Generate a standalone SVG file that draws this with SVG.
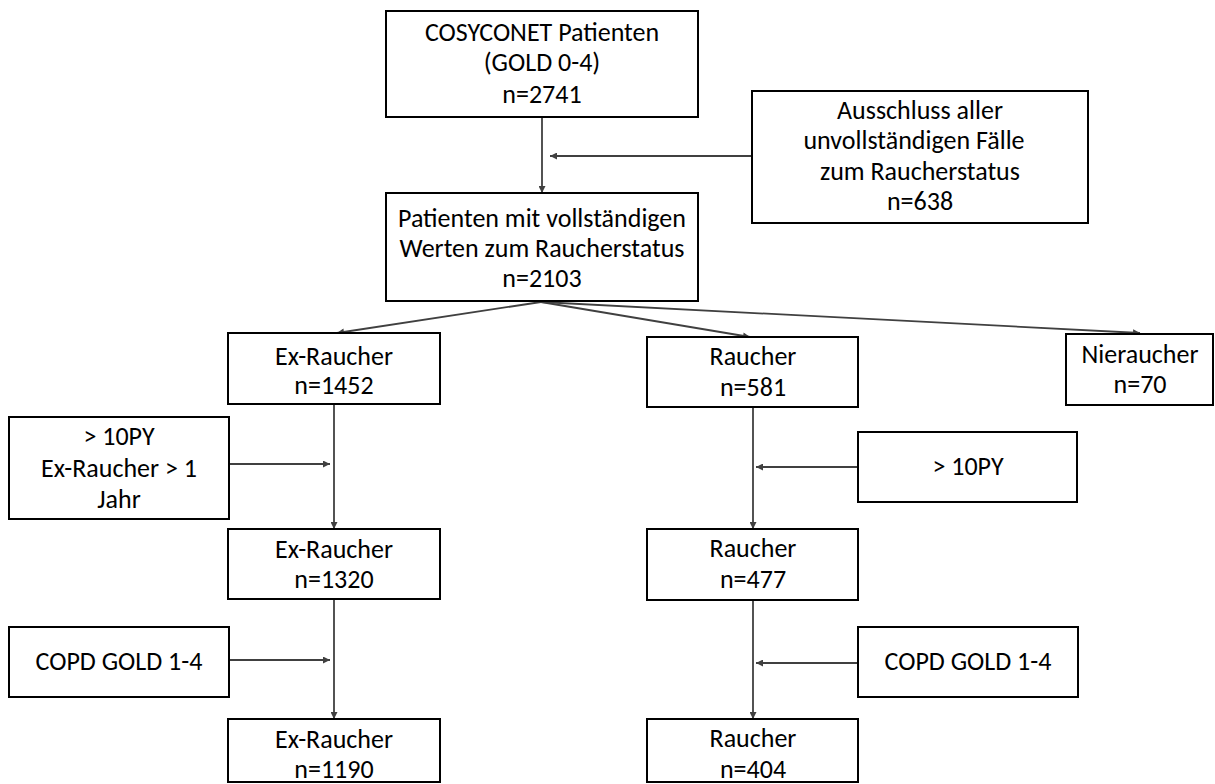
<svg xmlns="http://www.w3.org/2000/svg" width="1215" height="784" viewBox="0 0 1215 784">
<style>
.box{fill:#fff;stroke:#000;stroke-width:2}
.t{font-family:Carlito,"Open Sans",Lato,"Liberation Sans",sans-serif;font-size:26px;fill:#000;text-anchor:middle}
.c{stroke:#404040;stroke-width:1.8;fill:none;marker-end:url(#ah)}
</style>
<defs>
<marker id="ah" viewBox="0 0 10 10" refX="10" refY="5" markerWidth="9" markerHeight="7" markerUnits="userSpaceOnUse" orient="auto">
<path d="M0,0 L10,5 L0,10 z" fill="#404040"/>
</marker>
</defs>
<rect width="1215" height="784" fill="#fff"/>
<g id="connectors">
<line class="c" x1="542" y1="117" x2="542" y2="193"/>
<line class="c" x1="752" y1="156" x2="550" y2="156"/>
<line class="c" x1="541" y1="302" x2="337" y2="333"/>
<line class="c" x1="541" y1="302" x2="750" y2="337"/>
<line class="c" x1="541" y1="302" x2="1140" y2="333"/>
<line class="c" x1="334" y1="404" x2="334" y2="529"/>
<line class="c" x1="229" y1="464" x2="330" y2="464"/>
<line class="c" x1="334" y1="599" x2="334" y2="719"/>
<line class="c" x1="229" y1="660" x2="330" y2="660"/>
<line class="c" x1="753" y1="407" x2="753" y2="529"/>
<line class="c" x1="858" y1="467" x2="756" y2="467"/>
<line class="c" x1="753" y1="600" x2="753" y2="719"/>
<line class="c" x1="858" y1="663" x2="756" y2="663"/>
</g>
<g id="n_top">
<rect class="box" x="386" y="11" width="312" height="106"/>
<text class="t" x="542" y="41">COSYCONET Patienten</text>
<text class="t" x="542" y="71">(GOLD 0-4)</text>
<text class="t" x="542" y="103">n=2741</text>
</g>
<g id="n_excl">
<rect class="box" x="752" y="91" width="336" height="132"/>
<text class="t" x="920" y="119">Ausschluss aller</text>
<text class="t" x="914" y="149">unvollständigen Fälle</text>
<text class="t" x="920" y="180">zum Raucherstatus</text>
<text class="t" x="920" y="210">n=638</text>
</g>
<g id="n_complete">
<rect class="box" x="386" y="193" width="312" height="108"/>
<text class="t" x="542" y="227">Patienten mit vollständigen</text>
<text class="t" x="542" y="257">Werten zum Raucherstatus</text>
<text class="t" x="542" y="287">n=2103</text>
</g>
<g id="n_ex1">
<rect class="box" x="228" y="333" width="212" height="71"/>
<text class="t" x="334" y="365">Ex-Raucher</text>
<text class="t" x="334" y="394">n=1452</text>
</g>
<g id="n_r1">
<rect class="box" x="647" y="337" width="211" height="70"/>
<text class="t" x="753" y="365">Raucher</text>
<text class="t" x="753" y="396">n=581</text>
</g>
<g id="n_nie">
<rect class="box" x="1066" y="334" width="147" height="71"/>
<text class="t" x="1140" y="363">Nieraucher</text>
<text class="t" x="1140" y="393">n=70</text>
</g>
<g id="n_f1">
<rect class="box" x="9" y="417" width="220" height="102"/>
<text class="t" x="119" y="445">&gt; 10PY</text>
<text class="t" x="119" y="477">Ex-Raucher &gt; 1</text>
<text class="t" x="119" y="508">Jahr</text>
</g>
<g id="n_ex2">
<rect class="box" x="228" y="529" width="212" height="70"/>
<text class="t" x="334" y="558">Ex-Raucher</text>
<text class="t" x="334" y="588">n=1320</text>
</g>
<g id="n_f2">
<rect class="box" x="858" y="432" width="219" height="70"/>
<text class="t" x="968" y="475">&gt; 10PY</text>
</g>
<g id="n_r2">
<rect class="box" x="647" y="529" width="211" height="71"/>
<text class="t" x="753" y="557">Raucher</text>
<text class="t" x="753" y="588">n=477</text>
</g>
<g id="n_f3">
<rect class="box" x="9" y="627" width="220" height="70"/>
<text class="t" x="119" y="670">COPD GOLD 1-4</text>
</g>
<g id="n_f4">
<rect class="box" x="858" y="627" width="220" height="70"/>
<text class="t" x="968" y="670">COPD GOLD 1-4</text>
</g>
<g id="n_ex3">
<rect class="box" x="228" y="719" width="212" height="63"/>
<text class="t" x="334" y="748">Ex-Raucher</text>
<text class="t" x="334" y="778">n=1190</text>
</g>
<g id="n_r3">
<rect class="box" x="647" y="719" width="211" height="63"/>
<text class="t" x="753" y="747">Raucher</text>
<text class="t" x="753" y="778">n=404</text>
</g>
</svg>
